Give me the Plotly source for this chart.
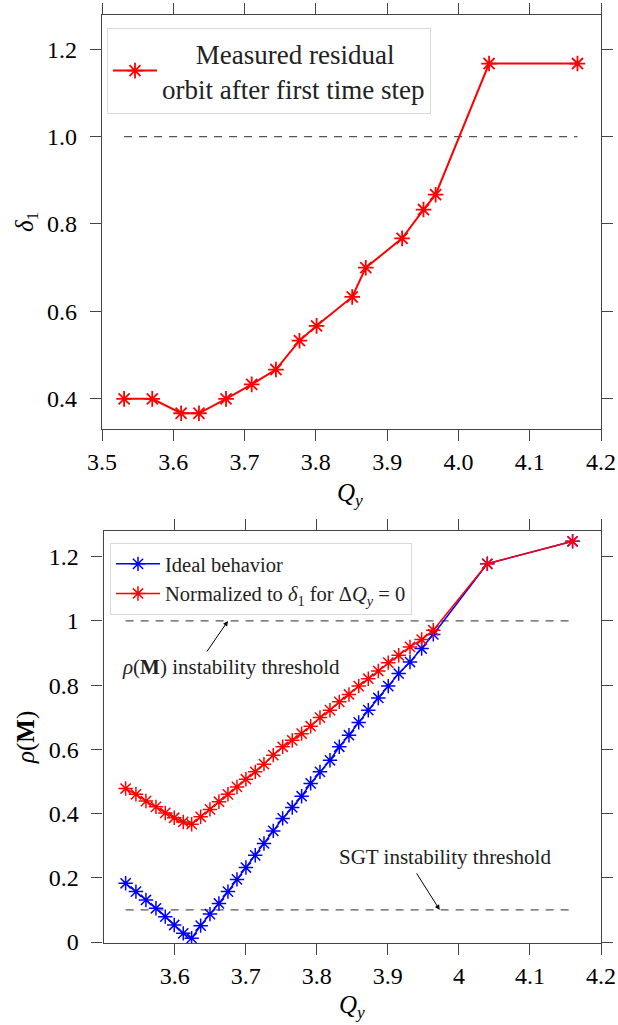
import plotly.graph_objects as go

# ---------------- data ----------------
# Top panel: measured residual orbit after first time step
q_top = [3.531, 3.5705, 3.611, 3.636, 3.674, 3.710, 3.744, 3.777, 3.801,
         3.851, 3.870, 3.921, 3.951, 3.968, 4.043, 4.167]
delta1 = [0.400, 0.400, 0.367, 0.367, 0.400, 0.433, 0.467, 0.533, 0.567,
          0.633, 0.700, 0.767, 0.833, 0.867, 1.167, 1.167]

# Bottom panel
q_bot = [3.531, 3.5455, 3.5596, 3.5737, 3.5868, 3.5994, 3.6121, 3.6239,
         3.6366, 3.6497, 3.6623, 3.6750, 3.6877, 3.7003, 3.7134, 3.7257,
         3.7388, 3.7520, 3.7655, 3.7787, 3.7914, 3.8045, 3.8186, 3.8317,
         3.8453, 3.8590, 3.8725, 3.8866, 3.9006, 3.9153, 3.9312, 3.9476,
         3.9640, 4.040, 4.160]
rho_ideal = [0.183, 0.157, 0.131, 0.105, 0.079, 0.053, 0.027, 0.012,
             0.051, 0.087, 0.120, 0.157, 0.195, 0.232, 0.270, 0.307,
             0.346, 0.385, 0.419, 0.454, 0.494, 0.530, 0.566, 0.608,
             0.644, 0.684, 0.722, 0.760, 0.797, 0.836, 0.872, 0.914,
             0.958, 1.178, 1.248]
rho_norm = [0.478, 0.460, 0.439, 0.421, 0.402, 0.387, 0.374, 0.367,
            0.390, 0.413, 0.437, 0.460, 0.483, 0.507, 0.530, 0.554,
            0.582, 0.608, 0.628, 0.649, 0.672, 0.699, 0.722, 0.748,
            0.771, 0.797, 0.820, 0.844, 0.870, 0.893, 0.919, 0.942,
            0.971, 1.178, 1.248]

top_threshold = 1.0
rho_threshold = 1.0
sgt_threshold = 0.1

top_xticks = [3.5, 3.6, 3.7, 3.8, 3.9, 4.0, 4.1, 4.2]
top_xlabels = ["3.5", "3.6", "3.7", "3.8", "3.9", "4.0", "4.1", "4.2"]
top_yticks = [0.4, 0.6, 0.8, 1.0, 1.2]
top_ylabels = ["0.4", "0.6", "0.8", "1.0", "1.2"]
bot_xticks = [3.6, 3.7, 3.8, 3.9, 4.0, 4.1, 4.2]
bot_xlabels = ["3.6", "3.7", "3.8", "3.9", "4", "4.1", "4.2"]
bot_yticks = [0, 0.2, 0.4, 0.6, 0.8, 1.0, 1.2]
bot_ylabels = ["0", "0.2", "0.4", "0.6", "0.8", "1", "1.2"]

# ---------------- figure ----------------
W, H = 618, 1025
FONT = "Liberation Serif"
RED = "#ff0000"
BLUE = "#0000ff"
GRAY = "#555555"
AX = "#444444"
NB = "\u00a0"

fig = go.Figure()

# top panel dashed threshold
fig.add_trace(go.Scatter(x=[q_top[0], q_top[-1]], y=[top_threshold, top_threshold],
                         mode="lines", line=dict(color=GRAY, width=1.2, dash="8px,7px"),
                         showlegend=False, xaxis="x", yaxis="y", hoverinfo="skip"))
fig.add_trace(go.Scatter(
    x=q_top, y=delta1, mode="lines+markers",
    name=NB * 5 + "Measured residual<br>orbit after first time step",
    line=dict(color=RED, width=2),
    marker=dict(symbol="asterisk-open", size=13, color=RED, line=dict(color=RED, width=1.8)),
    xaxis="x", yaxis="y", legend="legend"))

# bottom panel thresholds
fig.add_trace(go.Scatter(x=[q_bot[0], q_bot[-1]], y=[rho_threshold, rho_threshold],
                         mode="lines", line=dict(color=GRAY, width=1.2, dash="8px,7px"),
                         showlegend=False, xaxis="x2", yaxis="y2", hoverinfo="skip"))
fig.add_trace(go.Scatter(x=[q_bot[0], q_bot[-1]], y=[sgt_threshold, sgt_threshold],
                         mode="lines", line=dict(color=GRAY, width=1.2, dash="8px,7px"),
                         showlegend=False, xaxis="x2", yaxis="y2", hoverinfo="skip"))
fig.add_trace(go.Scatter(
    x=q_bot, y=rho_ideal, mode="lines+markers", name="Ideal behavior",
    line=dict(color=BLUE, width=1.5),
    marker=dict(symbol="asterisk-open", size=12, color=BLUE, line=dict(color=BLUE, width=1.5)),
    xaxis="x2", yaxis="y2", legend="legend2"))
fig.add_trace(go.Scatter(
    x=q_bot, y=rho_norm, mode="lines+markers",
    name="Normalized to <i>δ</i><sub>1</sub> for Δ<i>Q</i><sub><i>y</i></sub> = 0",
    line=dict(color=RED, width=1.5),
    marker=dict(symbol="asterisk-open", size=12, color=RED, line=dict(color=RED, width=1.5)),
    xaxis="x2", yaxis="y2", legend="legend2"))


def px_x(p):
    return p / W


def px_y(p):
    return 1 - p / H


axis_common = dict(showgrid=False, zeroline=False, showline=True, linecolor=AX,
                   linewidth=1.3, ticks="outside", ticklen=11, tickwidth=1.3,
                   tickcolor=AX, mirror="ticks", automargin=False,
                   tickfont=dict(family=FONT, size=24, color="black"))

fig.update_layout(
    template="none",
    width=W, height=H,
    margin=dict(l=0, r=0, t=0, b=0, pad=0),
    paper_bgcolor="white", plot_bgcolor="white",
    font=dict(family=FONT, color="black"),
    xaxis=dict(domain=[px_x(102), px_x(601)], range=[3.5, 4.2], anchor="y",
               tickvals=top_xticks, ticktext=top_xlabels, **axis_common),
    yaxis=dict(domain=[px_y(429), px_y(15)], range=[0.331, 1.278], anchor="x",
               tickvals=top_yticks, ticktext=top_ylabels, ticklabelstandoff=8,
               **axis_common),
    xaxis2=dict(domain=[px_x(103.6), px_x(601)], range=[3.5, 4.2], anchor="y2",
                tickvals=bot_xticks, ticktext=bot_xlabels, **axis_common),
    yaxis2=dict(domain=[px_y(943.3), px_y(530.7)], range=[-0.004, 1.281], anchor="x2",
                tickvals=bot_yticks, ticktext=bot_ylabels, ticklabelstandoff=8,
                **axis_common),
    legend=dict(x=px_x(107), y=px_y(28), xanchor="left", yanchor="top",
                bgcolor="white", bordercolor="#d9d9d9", borderwidth=1,
                font=dict(family=FONT, size=27, color="#222222"), itemwidth=44,
                tracegroupgap=0),
    legend2=dict(x=px_x(110), y=px_y(543), xanchor="left", yanchor="top",
                 bgcolor="white", bordercolor="#d9d9d9", borderwidth=1,
                 font=dict(family=FONT, size=20.5, color="#222222"), itemwidth=44,
                 tracegroupgap=0),
    showlegend=True,
)

annotations = [
    # axis titles
    dict(text="<i>Q</i><sub><i>y</i></sub>", x=px_x(350), y=px_y(494), xref="paper", yref="paper",
         showarrow=False, font=dict(family=FONT, size=25), xanchor="center", yanchor="middle"),
    dict(text="<i>Q</i><sub><i>y</i></sub>", x=px_x(352), y=px_y(1006), xref="paper", yref="paper",
         showarrow=False, font=dict(family=FONT, size=25), xanchor="center", yanchor="middle"),
    dict(text="<i>δ</i><sub>1</sub>", x=px_x(27), y=px_y(222), xref="paper", yref="paper",
         showarrow=False, font=dict(family=FONT, size=25), textangle=-90,
         xanchor="center", yanchor="middle"),
    dict(text="<i>ρ</i>(<b>M</b>)", x=px_x(26), y=px_y(738), xref="paper", yref="paper",
         showarrow=False, font=dict(family=FONT, size=25), textangle=-90,
         xanchor="center", yanchor="middle"),
    # threshold labels
    dict(text="<i>ρ</i>(<b>M</b>) instability threshold", x=3.679, y=0.857, xref="x2", yref="y2",
         showarrow=False, font=dict(family=FONT, size=21, color="#222222"),
         xanchor="center", yanchor="middle"),
    dict(text="SGT instability threshold", x=3.98, y=0.2635, xref="x2", yref="y2",
         showarrow=False, font=dict(family=FONT, size=21, color="#222222"),
         xanchor="center", yanchor="middle"),
    # arrows
    dict(text="", x=3.675, y=rho_threshold, xref="x2", yref="y2", showarrow=True,
         ax=-22, ay=32, arrowhead=2, arrowsize=1, arrowwidth=1, arrowcolor="black",
         standoff=0),
    dict(text="", x=3.973, y=sgt_threshold, xref="x2", yref="y2", showarrow=True,
         ax=-24, ay=-38, arrowhead=2, arrowsize=1, arrowwidth=1, arrowcolor="black",
         standoff=0),
]
fig.update_layout(annotations=annotations)

fig.write_html("out.html")
